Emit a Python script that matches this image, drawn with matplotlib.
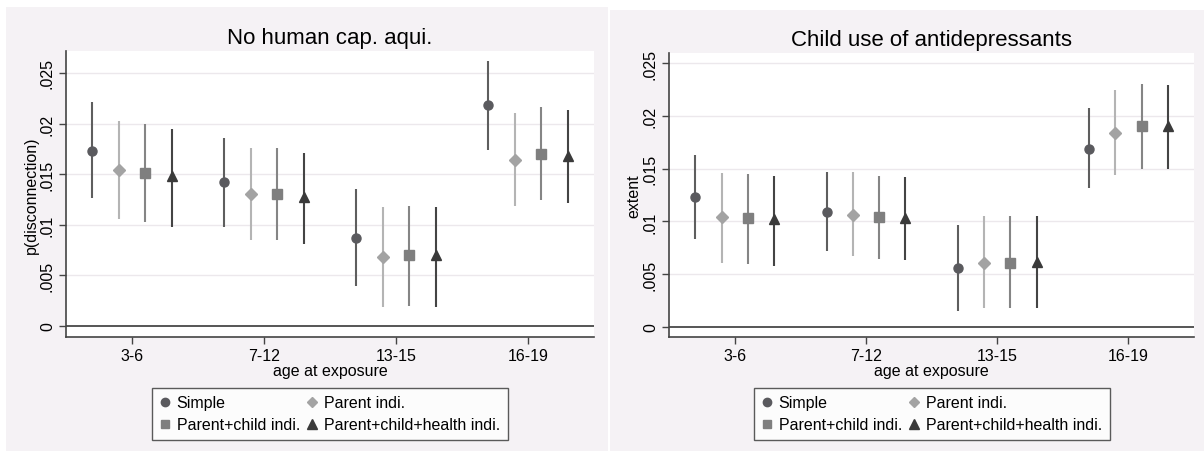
import numpy as np
import matplotlib.pyplot as plt
from matplotlib.lines import Line2D
from matplotlib.patches import Rectangle

plt.rcParams['font.family'] = ['Liberation Sans', 'DejaVu Sans']

groups = ["3-6", "7-12", "13-15", "16-19"]
series = ["Simple", "Parent indi.", "Parent+child indi.", "Parent+child+health indi."]

# left panel: No human cap. aqui.  (point, lower, upper) per series, per age group
left_pt = [[0.0173, 0.0142, 0.0087, 0.0218],
           [0.0154, 0.0130, 0.0068, 0.0164],
           [0.0151, 0.0130, 0.0070, 0.0170],
           [0.0148, 0.0127, 0.0070, 0.0168]]
left_lo = [[0.0126, 0.0098, 0.0039, 0.0174],
           [0.0106, 0.0085, 0.0019, 0.0119],
           [0.0103, 0.0085, 0.0020, 0.0124],
           [0.0098, 0.0081, 0.0019, 0.0122]]
left_hi = [[0.0221, 0.0186, 0.0135, 0.0262],
           [0.0203, 0.0176, 0.0118, 0.0210],
           [0.0200, 0.0176, 0.0119, 0.0216],
           [0.0195, 0.0171, 0.0118, 0.0213]]

# right panel: Child use of antidepressants
right_pt = [[0.0123, 0.0109, 0.0056, 0.0169],
            [0.0104, 0.0106, 0.0061, 0.0184],
            [0.0103, 0.0104, 0.0061, 0.0190],
            [0.0102, 0.0103, 0.0062, 0.0190]]
right_lo = [[0.0083, 0.0072, 0.0015, 0.0132],
            [0.0061, 0.0067, 0.0018, 0.0144],
            [0.0060, 0.0064, 0.0018, 0.0150],
            [0.0058, 0.0063, 0.0018, 0.0150]]
right_hi = [[0.0163, 0.0147, 0.0097, 0.0207],
            [0.0146, 0.0147, 0.0105, 0.0224],
            [0.0145, 0.0143, 0.0105, 0.0230],
            [0.0143, 0.0142, 0.0105, 0.0229]]

yticks = [0, 0.005, 0.01, 0.015, 0.02, 0.025]
ytick_labels = ["0", ".005", ".01", ".015", ".02", ".025"]

offsets = [-0.3, -0.1, 0.1, 0.3]
markers = ['o', 'D', 's', '^']
msizes = [6.5, 6, 6.5, 7]
mcolors = ['#5a5a5e', '#a3a3a3', '#7f7f7f', '#3a3a3a']
lcolors = ['#5e5e5e', '#b4b4b4', '#858585', '#444444']

bg = '#f5f2f5'
W, H = 1204, 452
fs = 11.5

fig = plt.figure(figsize=(W / 100, H / 100), dpi=100)
fig.patch.set_facecolor('white')
fig.patches.append(Rectangle((6 / W, 0), 602 / W, 444 / H, transform=fig.transFigure,
                             facecolor=bg, edgecolor='none', zorder=-10))
fig.patches.append(Rectangle((610 / W, 0), 594 / W, 441 / H, transform=fig.transFigure,
                             facecolor=bg, edgecolor='none', zorder=-10))


def panel(rect, pt, lo, hi, title, ylabel, ylim, leg_x):
    ax = fig.add_axes([rect[0] / W, (H - rect[3]) / H, (rect[2] - rect[0]) / W, (rect[3] - rect[1]) / H])
    ax.set_facecolor('white')
    x = np.arange(1, len(groups) + 1)
    for i in range(len(series)):
        p = np.array(pt[i])
        ax.vlines(x + offsets[i], lo[i], hi[i], color=lcolors[i], lw=1.5, zorder=3)
        ax.plot(x + offsets[i], p, ls='none', marker=markers[i], ms=msizes[i],
                color=mcolors[i], mec=mcolors[i], zorder=4)
    ax.axhline(0, color='#555555', lw=1.4, zorder=2)
    for t in yticks[1:]:
        ax.axhline(t, color='#ece8ec', lw=1.0, zorder=1)
    ax.set_xlim(0.5, 4.5)
    ax.set_ylim(*ylim)
    ax.set_xticks(x)
    ax.set_xticklabels(groups, fontsize=fs)
    ax.set_yticks(yticks)
    ax.set_yticklabels(ytick_labels, fontsize=fs, rotation=90, va='center')
    for s in ['top', 'right']:
        ax.spines[s].set_visible(False)
    for s in ['left', 'bottom']:
        ax.spines[s].set_color('#444444')
        ax.spines[s].set_linewidth(1.2)
    ax.tick_params(direction='out', length=5, width=1, color='#444444', pad=3)
    ax.set_xlabel("age at exposure", fontsize=fs, labelpad=0)
    ax.set_ylabel(ylabel, fontsize=fs, labelpad=1)
    ax.set_title(title, fontsize=16, pad=6)

    handles = [Line2D([], [], ls='none', marker=markers[i], ms=msizes[i] - 0.5,
                      color=mcolors[i], label=series[i]) for i in [0, 2, 1, 3]]
    leg = fig.legend(handles=handles, ncol=2, loc='upper left',
                     bbox_to_anchor=(leg_x / W, (H - 389) / H), fontsize=11.5,
                     frameon=True, fancybox=False, edgecolor='#333333',
                     handlelength=0.7, handletextpad=0.4, columnspacing=0.4,
                     labelspacing=0.45, borderpad=0.45, borderaxespad=0)
    leg.get_frame().set_linewidth(1.0)
    return ax


panel((66, 52, 594, 338), left_pt, left_lo, left_hi, "No human cap. aqui.",
      "p(disconnection)", (-0.00109, 0.02717), 152)
panel((669, 54, 1194, 338), right_pt, right_lo, right_hi, "Child use of antidepressants",
      "extent", (-0.00095, 0.02595), 754)

fig.savefig("out.png", dpi=100, facecolor=fig.get_facecolor())
